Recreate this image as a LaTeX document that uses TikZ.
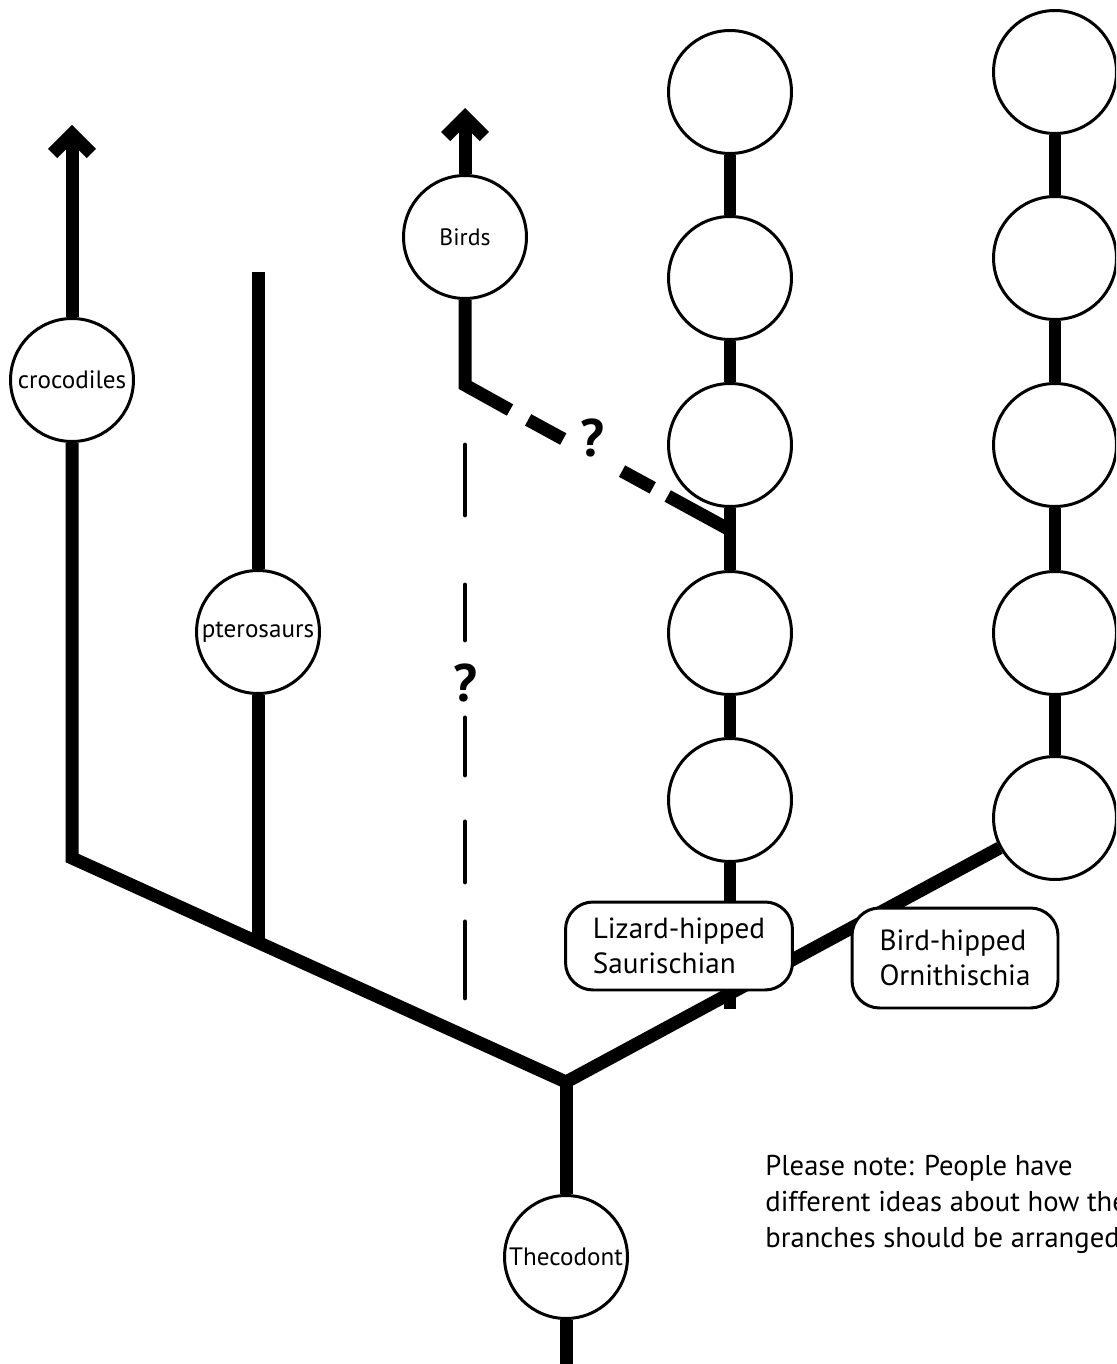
\documentclass[tikz,border=0pt]{standalone}
\usepackage{fontspec}
\setmainfont{PT Sans}
\usetikzlibrary{arrows.meta}

\begin{document}
\begin{tikzpicture}[x=0.02cm,y=-0.02cm,
    taxon/.style={circle,draw,fill=white,line width=1.7pt,minimum size=2.46cm,inner sep=0pt,font=\fontsize{14.3}{16}\selectfont},
    hipbox/.style={draw,fill=white,line width=1.7pt,rounded corners=0.55cm,align=left,inner sep=0pt,font=\fontsize{16.6}{20}\selectfont},
    branch/.style={line width=7.4pt},
    link/.style={line width=6.6pt},
    uptip/.style={-{Straight Barb[length=11pt,width=22pt]}},
    unsure/.style={font=\fontsize{30}{30}\selectfont\bfseries}]
    \useasboundingbox (0,0) rectangle (1116,1364);
    \clip (0,0) rectangle (1116,1364);
    % taxa
    \node[taxon] (thec) at (566,1257) {Thecodont};
    \node[taxon] (croc) at (72,380) {crocodiles};
    \node[taxon] (ptero) at (258,632) {pterosaurs};
    \node[taxon,font=\fontsize{13.5}{16}\selectfont] (birds) at (465,237) {Birds};
    \foreach \i/\y in {1/92,2/278,3/445,4/633,5/800}
        \node[taxon] (s\i) at (730,\y) {};
    \foreach \i/\y in {1/72,2/258,3/445,4/633,5/818}
        \node[taxon] (o\i) at (1055,\y) {};
    % branch points
    \coordinate (root) at (566,1364);
    \coordinate (J) at (566,1082);
    \coordinate (cj) at (72,858);
    \coordinate (pj) at (258,942);
    \coordinate (ptop) at (258,272);
    \coordinate (ctop) at (72,125);
    \coordinate (btop) at (465,108);
    \coordinate (sj) at (730,1009);
    \coordinate (bk) at (465,385);
    \coordinate (bkd) at (510,410);
    \coordinate (sq) at (730,530);
    \coordinate (qa) at (465,445);
    \coordinate (qb) at (465,998);
    % main tree
    \draw[branch] (root) -- (thec) (thec) -- (J);
    \draw[branch,line join=miter] (o5) -- (J) -- (cj) -- (croc);
    \draw[branch,uptip] (croc) -- (ctop);
    \draw[branch] (pj) -- (ptero) (ptero) -- (ptop);
    \draw[branch,uptip] (birds) -- (btop);
    \draw[branch,line join=miter] (birds) -- (bk) -- (bkd);
    \draw[branch,dash pattern=on 1.42cm off 0.34cm on 0.7cm off 1.34cm on 0.8cm off 0.42cm] (sq) -- (bkd);
    \draw[line width=2.8pt,line cap=round,dash pattern=on 1.4cm off 1.4cm on 1.1cm off 1.56cm on 1.14cm off 0.94cm on 1.2cm off 0.8cm on 1.52cm] (qa) -- (qb);
    % chains
    \draw[link] (sj) -- (s5);
    \foreach \a/\b in {1/2,2/3,3/4,4/5} {
        \draw[link] (s\a) -- (s\b);
        \draw[link] (o\a) -- (o\b);
    }
    \node[unsure] (q1) at (592,438) {?};
    \node[unsure] (q2) at (465,683) {?};
    % hip groups
    \node[hipbox,minimum width=4.54cm,minimum height=1.76cm] (sauri) at (679,946) {Lizard-hipped\\Saurischian};
    \node[hipbox,minimum width=4.12cm,minimum height=2cm] (ornith) at (955,958) {Bird-hipped\\Ornithischia};
    % note
    \node[anchor=north west,inner sep=0pt,align=left,font=\fontsize{16.3}{20.4}\selectfont] (note) at (765,1155)
        {Please note: People have\\different ideas about how the\\branches should be arranged};
\end{tikzpicture}
\end{document}
